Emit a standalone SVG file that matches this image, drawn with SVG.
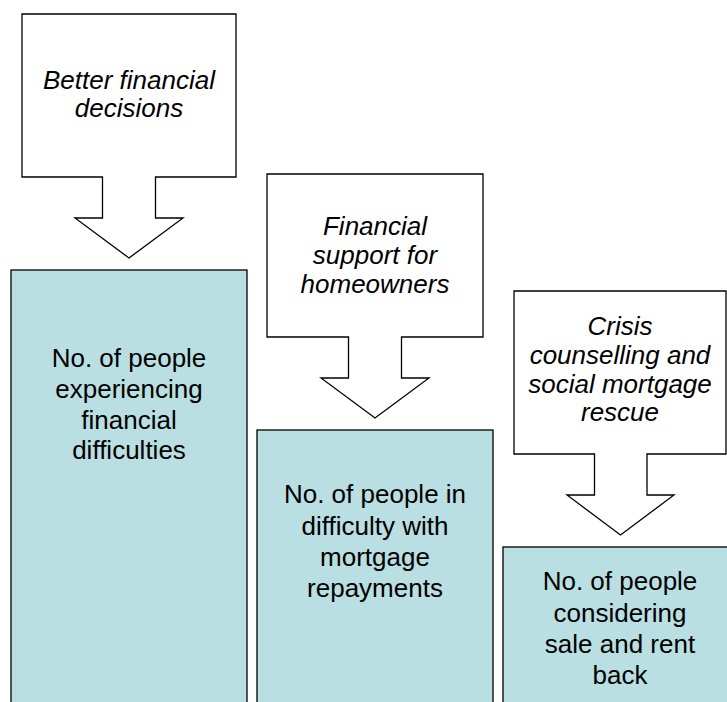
<svg xmlns="http://www.w3.org/2000/svg" width="727" height="702" viewBox="0 0 727 702">
<style>
.box{fill:#b9dfe2;stroke:#000;stroke-width:1.3}
.callout{fill:#fff;stroke:#000;stroke-width:1.3;stroke-linejoin:miter}
text{font-family:"Liberation Sans",Arial,sans-serif;font-size:26px;fill:#000;text-anchor:middle}
.it{font-style:italic}
</style>
<rect width="727" height="702" fill="#fff"/>
<g id="box1">
<rect class="box" x="11" y="270" width="236" height="450"/>
<text x="129" y="367">No. of people</text>
<text x="129" y="398">experiencing</text>
<text x="129" y="428.5">financial</text>
<text x="129" y="459">difficulties</text>
</g>
<g id="box2">
<rect class="box" x="257" y="430" width="236" height="300"/>
<text x="375" y="503">No. of people in</text>
<text x="375" y="535">difficulty with</text>
<text x="375" y="566">mortgage</text>
<text x="375" y="597">repayments</text>
</g>
<g id="box3">
<rect class="box" x="503" y="547" width="236" height="200"/>
<text x="620" y="590">No. of people</text>
<text x="620" y="621.5">considering</text>
<text x="620" y="653">sale and rent</text>
<text x="620" y="684">back</text>
</g>
<g id="callout1">
<path class="callout" d="M22,14 H236 V177 H155.5 V218 H183 L129,258 L75,218 H102.5 V177 H22 Z"/>
<text class="it" x="129" y="89">Better financial</text>
<text class="it" x="129" y="117">decisions</text>
</g>
<g id="callout2">
<path class="callout" d="M267,174 H483 V337 H401.5 V378 H429 L375,418 L321,378 H348.5 V337 H267 Z"/>
<text class="it" x="375" y="235">Financial</text>
<text class="it" x="375" y="264">support for</text>
<text class="it" x="375" y="293">homeowners</text>
</g>
<g id="callout3">
<path class="callout" d="M514,291 H726 V454 H647 V495 H674 L620.5,535 L567,495 H594.5 V454 H514 Z"/>
<text class="it" x="620" y="335">Crisis</text>
<text class="it" x="620" y="364">counselling and</text>
<text class="it" x="620" y="393">social mortgage</text>
<text class="it" x="620" y="421">rescue</text>
</g>
<g id="connectors"></g>
</svg>
